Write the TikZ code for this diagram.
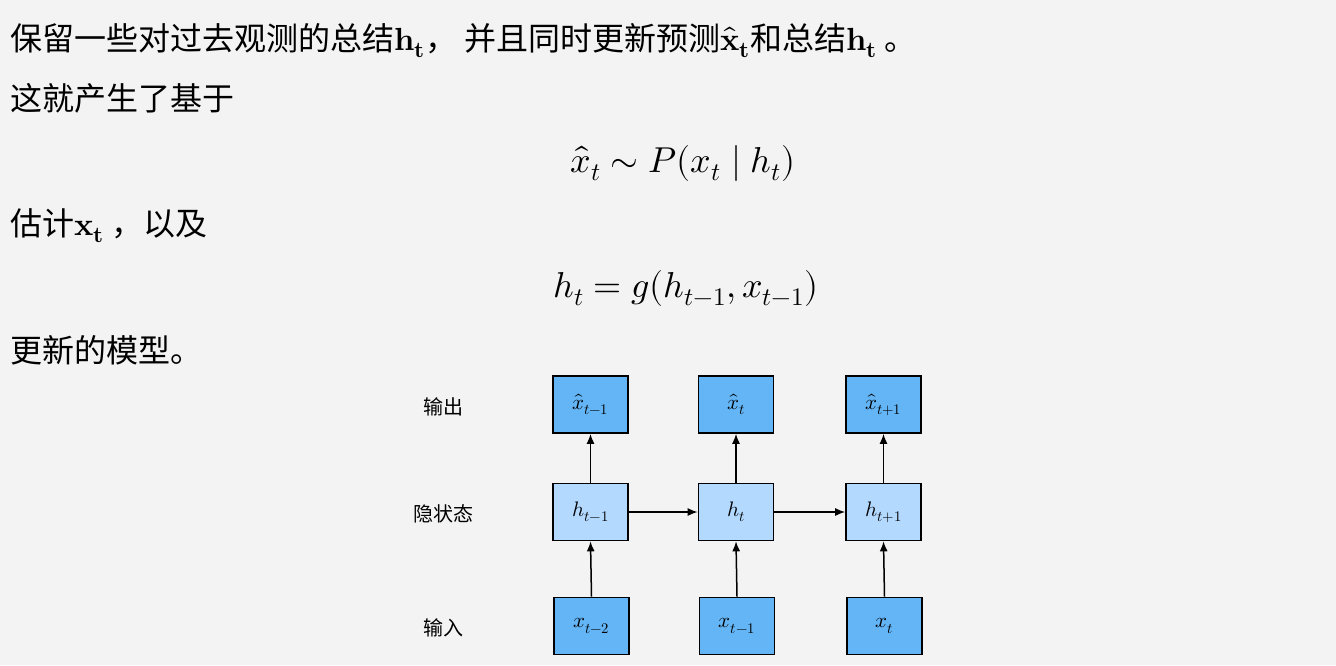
\documentclass[tikz,border=0pt]{standalone}
\usepackage{amsmath}
\usepackage{fontspec}
\usepackage{unicode-math}
\setmainfont{Noto Sans CJK SC}
\setmathfont{Latin Modern Math}
\usetikzlibrary{arrows.meta}
\definecolor{bgc}{HTML}{F3F3F3}
\definecolor{dark}{HTML}{64B5F6}
\definecolor{light}{HTML}{B3D9FF}
\tikzset{
  txt/.style={anchor=base west,inner sep=0pt,font=\fontsize{32}{36}\selectfont},
  fml/.style={anchor=base,inner sep=0pt,font=\fontsize{36}{40}\selectfont},
  dbox/.style={draw=black,line width=1.6pt,fill=dark,minimum width=75pt,minimum height=57pt,inner sep=0pt,font=\fontsize{21}{24}\selectfont},
  lbox/.style={dbox,fill=light},
  lab/.style={font=\fontsize{20}{24}\selectfont,inner sep=0pt},
  arr/.style={-{Latex[length=10pt,width=8pt]},line width=1.5pt}
}
\begin{document}
\begin{tikzpicture}[x=1pt,y=-1pt]
\fill[bgc] (0,0) rectangle (1336,665);
\node[txt] (l1) at (10,50) {保留一些对过去观测的总结$\symbf{h_t}$， 并且同时更新预测$\symbf{\hat{x}_t}$和总结$\symbf{h_t}$ 。};
\node[txt] (l2) at (10,110) {这就产生了基于};
\node[fml] (f1) at (683,172) {$\hat{x}_t \sim P(x_t \mid h_t)$};
\node[txt] (l3) at (10,235) {估计$\symbf{x_t}$ ，以及};
\node[fml] (f2) at (686,297) {$h_t = g(h_{t-1}, x_{t-1})$};
\node[txt] (l4) at (10,362) {更新的模型。};
% diagram
\node[dbox] (o1) at (590.5,404.5) {$\hat{x}_{t-1}$};
\node[dbox] (o2) at (736,404.5) {$\hat{x}_{t}$};
\node[dbox] (o3) at (883.5,404.5) {$\hat{x}_{t+1}$};
\node[lbox] (h1) at (590.5,512) {$h_{t-1}$};
\node[lbox] (h2) at (736,512) {$h_{t}$};
\node[lbox] (h3) at (883.5,512) {$h_{t+1}$};
\node[dbox] (i1) at (591.5,626) {$x_{t-2}$};
\node[dbox] (i2) at (737,626) {$x_{t-1}$};
\node[dbox] (i3) at (884.5,626) {$x_{t}$};
\node[lab] (a) at (443,407) {输出};
\node[lab] (b) at (443,514) {隐状态};
\node[lab] (c) at (443,628) {输入};
\foreach \i in {1,2,3}{
  \draw[arr] (h\i.north) -- (o\i.south);
  \draw[arr] (i\i.north) -- (h\i.south);
}
\draw[arr] (h1) -- (h2);
\draw[arr] (h2) -- (h3);
\end{tikzpicture}
\end{document}
